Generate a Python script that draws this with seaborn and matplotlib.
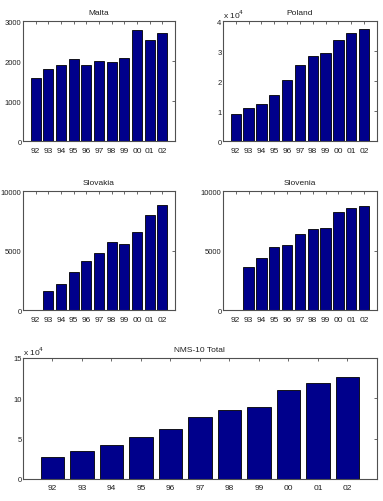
import numpy as np
import pandas as pd
import matplotlib
matplotlib.use("Agg")
import matplotlib.pyplot as plt
import seaborn as sns
from matplotlib.ticker import FuncFormatter

# Data
years = ["92", "93", "94", "95", "96", "97", "98", "99", "00", "01", "02"]
malta = [1570, 1790, 1890, 2040, 1910, 1995, 1980, 2070, 2770, 2520, 2700]
poland = [8900, 11000, 12400, 15500, 20400, 25500, 28200, 29200, 33800, 35900, 37500]
slovakia = [0, 1615, 2240, 3230, 4110, 4840, 5720, 5580, 6600, 7990, 8810]
slovenia = [0, 3630, 4390, 5330, 5520, 6400, 6800, 6940, 8240, 8560, 8750]
nms_total = [26900, 34000, 42300, 52200, 62200, 76700, 85800, 89500, 110200, 118900, 126000]

sns.set_style("white")
plt.rcParams["font.family"] = ["Liberation Sans", "DejaVu Sans"]
plt.rcParams["font.size"] = 6
plt.rcParams["text.color"] = "#202020"
plt.rcParams["xtick.color"] = "#202020"
plt.rcParams["ytick.color"] = "#202020"

bar_color = "#00008B"
frame_color = "#505050"

fig = plt.figure(figsize=(3.83, 5.02), dpi=100)


def draw(rect, values, title, yticks, ylim, scale=None):
    ax = fig.add_axes(rect)
    df = pd.DataFrame({"year": years, "value": values})
    sns.barplot(data=df, x="year", y="value", color=bar_color, saturation=1,
                edgecolor="black", linewidth=0.6, width=0.8, ax=ax)
    ax.set_xlim(-1, 11)
    ax.set_ylim(*ylim)
    ax.set_yticks(yticks)
    if scale:
        ax.yaxis.set_major_formatter(FuncFormatter(lambda v, p: f"{v / scale:g}"))
        ax.text(0.0, 1.01, r"x 10$^4$", transform=ax.transAxes, fontsize=6,
                ha="left", va="bottom")
    ax.set_xlabel("")
    ax.set_ylabel("")
    ax.set_title(title, fontsize=6, pad=5)
    ax.tick_params(direction="in", length=2.5, width=0.6, color=frame_color,
                   top=True, right=True)
    ax.tick_params(axis="x", pad=4, labelsize=6)
    ax.tick_params(axis="y", pad=1, labelsize=5.5)
    for s in ax.spines.values():
        s.set_color(frame_color)
        s.set_linewidth(0.8)
    return ax


draw([0.060, 0.717, 0.397, 0.239], malta, "Malta", [0, 1000, 2000, 3000], (0, 3000))
draw([0.582, 0.717, 0.402, 0.239], poland, "Poland", [0, 10000, 20000, 30000, 40000],
     (0, 40000), scale=1e4)
draw([0.060, 0.380, 0.397, 0.237], slovakia, "Slovakia", [0, 5000, 10000], (0, 10000))
draw([0.582, 0.380, 0.402, 0.237], slovenia, "Slovenia", [0, 5000, 10000], (0, 10000))
draw([0.060, 0.044, 0.924, 0.241], nms_total, "NMS-10 Total",
     [0, 50000, 100000, 150000], (0, 150000), scale=1e4)

fig.savefig("out.png", dpi=100)
